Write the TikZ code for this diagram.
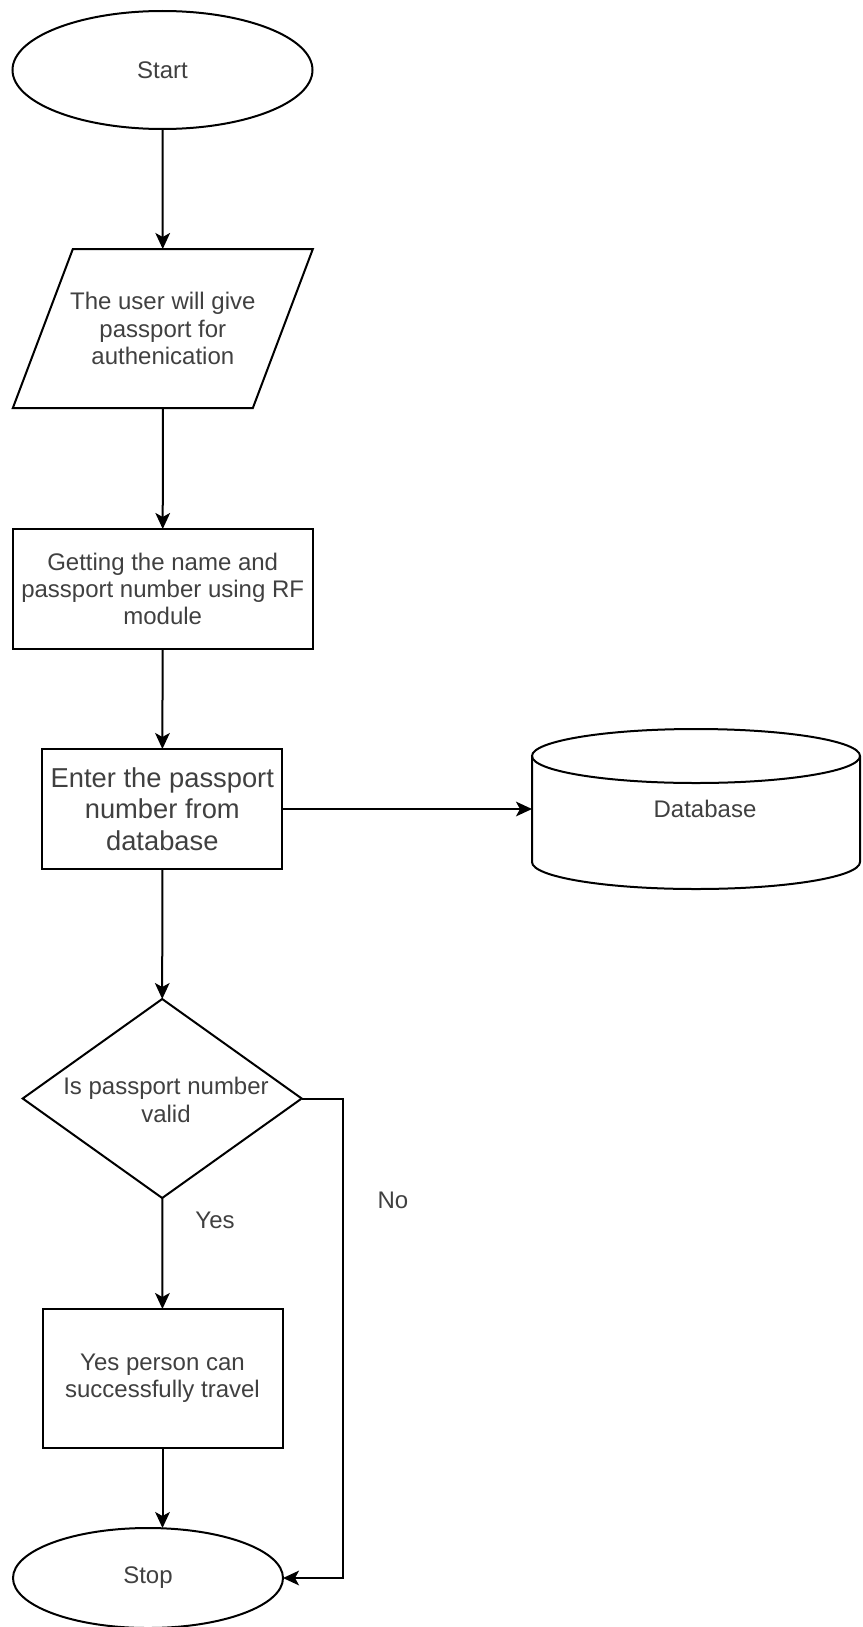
\documentclass[tikz,border=0pt]{standalone}
\usepackage{fontspec}
\setmainfont{Liberation Sans}
\usetikzlibrary{shapes.geometric,arrows.meta}
\definecolor{txtgray}{HTML}{404040}
\tikzset{
  every node/.style={inner sep=0pt,outer sep=0pt,font=\fontsize{18}{20.5}\selectfont,text=txtgray,align=center},
  line/.style={draw=black,line width=1.5pt},
  arr/.style={line,-{Stealth[length=12pt,width=11pt,inset=3pt]}},
  oval/.style={ellipse,line},
  procbox/.style={rectangle,line},
  ghost/.style={rectangle,draw=none},
  decision/.style={diamond,line},
}
\begin{document}
\begin{tikzpicture}[x=0.75pt,y=-0.75pt]
\useasboundingbox (0,0) rectangle (863,1627);
% shapes
\node[oval,minimum width=225pt,minimum height=88.5pt] (start) at (162.5,70) {Start};
\node[ghost,minimum width=180pt,minimum height=119.25pt] (par) at (162.85,328.5) {The user will give\\passport for\\authenication};
\draw[line] ([xshift=22.5pt]par.north west) -- ([xshift=22.5pt]par.north east) -- ([xshift=-22.5pt]par.south east) -- ([xshift=-22.5pt]par.south west) -- cycle;
\node[procbox,minimum width=225pt,minimum height=90pt] (r1) at (162.7,589) {Getting the name and\\passport number using RF\\module};
\node[procbox,minimum width=180pt,minimum height=90pt,font=\fontsize{20.5}{23.5}\selectfont] (r2) at (162.3,809) {Enter the passport\\number from\\database};
\node[ghost,minimum width=246pt,minimum height=120pt] (db) at (696,809) {};
\draw[line] ([yshift=-20.25pt]db.north west) -- ([yshift=20.25pt]db.south west) arc (180:360:123pt and 20.25pt) -- ([yshift=-20.25pt]db.north east);
\draw[line] ([yshift=-20.25pt]db.north) ellipse (123pt and 20.25pt);
\node (dbl) at (705,809) {Database};
\node[decision,minimum width=209.25pt,minimum height=149.25pt] (dia) at (162.2,1098.5) {};
\node (dial) at (166,1100) {Is passport number\\valid};
\node[procbox,minimum width=180pt,minimum height=104.25pt] (r3) at (162.5,1378.5) {Yes person can\\successfully travel};
\node[oval,minimum width=202.5pt,minimum height=75pt] (stop) at (148,1578) {Stop};
% labels
\node (yes) at (215,1220) {Yes};
\node (no) at (393,1200) {No};
% connectors
\coordinate (nc) at (342.7,1098.5);
\draw[arr] (start) -- (par);
\draw[arr] (par) -- (r1);
\draw[arr] (r1) -- (r2);
\draw[arr] (r2.east) -- (db.west);
\draw[arr] (r2) -- (dia);
\draw[arr] (dia) -- (r3);
\draw[arr] (r3.south) -- (r3.south |- stop.north);
\draw[arr] (dia.east) -- (nc) |- (stop.east);
\end{tikzpicture}
\end{document}
